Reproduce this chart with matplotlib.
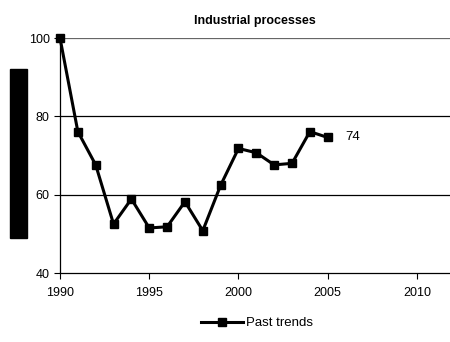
import matplotlib.pyplot as plt
from matplotlib.patches import Rectangle

plt.rcParams['font.family'] = ['Liberation Sans', 'DejaVu Sans']

years = [1990, 1991, 1992, 1993, 1994, 1995, 1996, 1997,
         1998, 1999, 2000, 2001, 2002, 2003, 2004, 2005]
past_trends = [100, 76.1, 67.6, 52.5, 58.9, 51.5, 51.8, 58.2,
               50.8, 62.4, 71.8, 70.7, 67.6, 68.0, 76.1, 74.6]
end_label = '74'
x_ticks = [1990, 1995, 2000, 2005, 2010]
y_ticks = [40, 60, 80, 100]

fig = plt.figure(figsize=(4.5, 3.42), dpi=100)
ax = fig.add_axes([60 / 450, 1 - 273 / 342, 390 / 450, 235 / 342])

ax.plot(years, past_trends, color='black', linewidth=2.2,
        marker='s', markersize=6, label='Past trends', clip_on=False, zorder=3)
ax.text(years[-1] + 1.0, past_trends[-1], end_label, fontsize=9.5,
        va='center', ha='left')

ax.set_xlim(1990, 2011.85)
ax.set_ylim(40, 100)
ax.set_xticks(x_ticks)
ax.set_yticks(y_ticks)
ax.tick_params(labelsize=9, length=4, direction='out', width=0.8)
ax.tick_params(axis='x', pad=6)
for y in y_ticks[1:]:
    ax.axhline(y, color='#666666' if y == 100 else 'black', linewidth=0.9, zorder=1)

for side in ('top', 'right'):
    ax.spines[side].set_visible(False)
ax.spines['left'].set_linewidth(0.9)
ax.spines['bottom'].set_linewidth(0.9)

ax.set_title('Industrial processes', fontsize=9, fontweight='bold', pad=10)

# solid block where the y axis caption sits
fig.patches.append(Rectangle((10 / 450, 1 - 238 / 342), 17 / 450, 169 / 342,
                             transform=fig.transFigure, color='black'))

fig.legend(loc='center', bbox_to_anchor=(257 / 450, 1 - 323 / 342), frameon=False,
           fontsize=9.5, handlelength=3.2, handletextpad=0.2)

fig.savefig('out.png', dpi=100)
